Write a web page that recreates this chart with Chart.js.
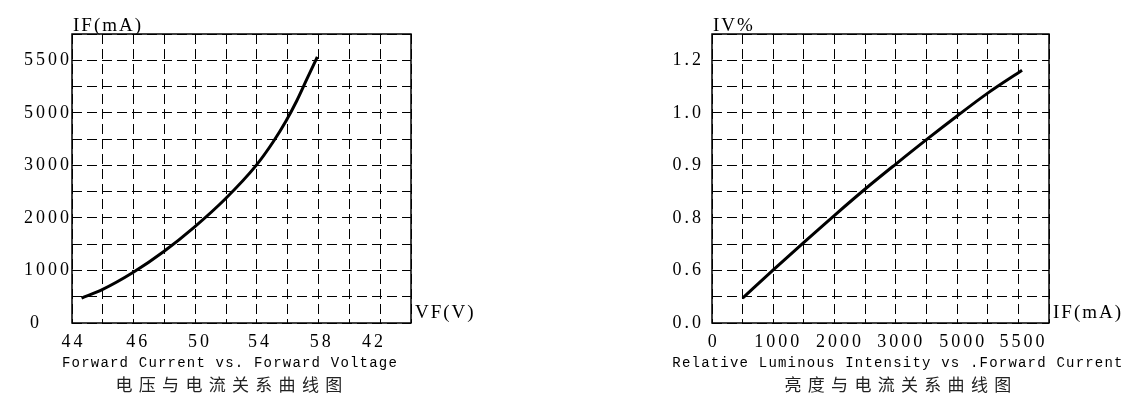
<!DOCTYPE html>
<html>
<head>
<meta charset="utf-8">
<script src="https://cdn.jsdelivr.net/npm/chart.js@4.4.0/dist/chart.umd.min.js"></script>
<style>
    html, body { margin: 0; padding: 0; background: #fff; }
    #wrap { position: relative; width: 1137px; height: 410px; }
    .box { position: absolute; top: 0; height: 410px; }
</style>
</head>
<body>
<div id="wrap">
    <div class="box" style="left:0;width:568px"><canvas id="vfChart"></canvas></div>
    <div class="box" style="left:568px;width:569px"><canvas id="ivChart"></canvas></div>
</div>
<script>
// 左图：电压与电流关系（刻度标注非线性，所以曲线按网格格数读取）
const vfCurveX = [0.31, 0.98, 1.99, 2.99, 3.97, 4.97, 5.97, 6.53, 6.94, 7.29, 7.62, 7.96];
const vfCurveY = [0.95, 1.27, 1.93, 2.73, 3.65, 4.72, 5.99, 6.90, 7.68, 8.45, 9.28, 10.13];
const vfTickLabels = ['44', '46', '50', '54', '58', '42'];
const vfTickAt = [0.05, 2.15, 4.15, 6.1, 8.1, 9.8];
const ifTickLabels = ['0', '1000', '2000', '3000', '5000', '5500'];
const ifTickAt = [0, 2, 4, 6, 8, 10];

// 右图：亮度与电流关系
const ivCurveX = [1.0, 2.0, 3.0, 4.0, 5.0, 6.0, 7.0, 8.0, 9.0, 10.12];
const ivCurveY = [0.95, 2.02, 3.07, 4.10, 5.10, 6.05, 6.98, 7.88, 8.75, 9.62];
const ivTickLabels = ['0.0', '0.6', '0.8', '0.9', '1.0', '1.2'];
const ivTickAt = [0, 2, 4, 6, 8, 10];
const curTickLabels = ['0', '1000', '2000', '3000', '5000', '5500'];
const curTickAt = [0.06, 2.16, 4.18, 6.18, 8.2, 10.17];

const GRID_UNITS = 11;
const serif = '"Liberation Serif", "DejaVu Serif", serif';
const mono = '"Liberation Mono", "DejaVu Sans Mono", monospace';
const cjk = '"Noto Sans CJK SC", sans-serif';
const tickFont = { family: serif, size: 18 };

// 画布的字距（Chart.js 本身不支持 letterSpacing）
const spacingPlugin = {
    id: 'spacing',
    beforeLayout(chart) { chart.ctx.letterSpacing = '3px'; },
    beforeDraw(chart) { chart.ctx.letterSpacing = '3px'; }
};

// 绘图区外框
const framePlugin = {
    id: 'frame',
    beforeDatasetsDraw(chart) {
        const { ctx, chartArea: a } = chart;
        ctx.save();
        ctx.strokeStyle = '#000';
        ctx.lineWidth = 1.5;
        ctx.setLineDash([]);
        ctx.strokeRect(a.left, a.top, a.right - a.left, a.bottom - a.top);
        ctx.restore();
    }
};

// 轴名和图题
const textPlugin = (texts) => ({
    id: 'texts',
    afterDraw(chart) {
        const ctx = chart.ctx;
        texts.forEach(t => {
            ctx.save();
            ctx.font = t.font;
            ctx.letterSpacing = (t.spacing || 0) + 'px';
            ctx.fillStyle = t.color || '#000';
            ctx.textAlign = t.align || 'left';
            ctx.textBaseline = t.baseline || 'alphabetic';
            ctx.fillText(t.text, t.x, t.y);
            ctx.restore();
        });
    }
});

const buildChart = (id, cfg) => {
    const ctx = document.getElementById(id).getContext('2d');
    return new Chart(ctx, {
        type: 'line',
        data: {
            datasets: [{
                data: cfg.xs.map((x, i) => ({ x: x, y: cfg.ys[i] })),
                borderColor: '#000',
                borderWidth: 3,
                pointRadius: 0,
                cubicInterpolationMode: 'monotone',
                xAxisID: 'x',
                yAxisID: 'y'
            }]
        },
        options: {
            responsive: true,
            maintainAspectRatio: false,
            animation: false,
            devicePixelRatio: 1,
            layout: { padding: cfg.padding },
            plugins: {
                legend: { display: false },
                tooltip: { enabled: false }
            },
            scales: {
                x: {
                    type: 'linear',
                    position: 'bottom',
                    min: 0,
                    max: GRID_UNITS,
                    ticks: { stepSize: 1, display: false },
                    grid: { color: '#000', lineWidth: 1, drawTicks: false },
                    border: { display: false, dash: [10, 5] },
                    afterFit: s => { s.height = 0; }
                },
                xl: {
                    type: 'linear',
                    position: 'bottom',
                    min: 0,
                    max: GRID_UNITS,
                    afterBuildTicks: s => { s.ticks = cfg.xTickAt.map(v => ({ value: v })); },
                    ticks: {
                        autoSkip: false,
                        maxRotation: 0,
                        padding: 8,
                        color: '#000',
                        font: tickFont,
                        callback: (v, i) => cfg.xTickLabels[i]
                    },
                    grid: { display: false, drawTicks: false },
                    border: { display: false },
                    afterFit: s => { s.height = 40; }
                },
                y: {
                    type: 'linear',
                    min: 0,
                    max: GRID_UNITS,
                    ticks: {
                        stepSize: 1,
                        padding: cfg.yPad,
                        color: '#000',
                        font: tickFont,
                        callback: v => {
                            const k = cfg.yTickAt.indexOf(v);
                            if (k < 0) return '';
                            return cfg.yTickLabels[k] + (cfg.zeroShift && v === 0 ? '    ' : '');
                        }
                    },
                    grid: { color: '#000', lineWidth: 1, drawTicks: false },
                    border: { display: false, dash: [10, 5] },
                    afterFit: s => { s.width = cfg.yWidth; }
                }
            }
        },
        plugins: [spacingPlugin, framePlugin, textPlugin(cfg.texts)]
    });
};

buildChart('vfChart', {
    xs: vfCurveX, ys: vfCurveY,
    xTickAt: vfTickAt, xTickLabels: vfTickLabels,
    yTickAt: ifTickAt, yTickLabels: ifTickLabels,
    yWidth: 72, yPad: 0, zeroShift: true,
    padding: { left: 0, top: 34, right: 157, bottom: 47 },
    texts: [
        { text: 'IF(mA)', x: 73, y: 31, font: '19px ' + serif, spacing: 2 },
        { text: 'VF(V)', x: 415, y: 318, font: '19px ' + serif, spacing: 2 },
        { text: 'Forward Current vs. Forward Voltage', x: 230, y: 367, font: '14px ' + mono, spacing: 1.2, align: 'center' },
        { text: '电压与电流关系曲线图', x: 232, y: 385, font: '17px ' + cjk, spacing: 6.3, align: 'center', baseline: 'middle', color: '#222' }
    ]
});

buildChart('ivChart', {
    xs: ivCurveX, ys: ivCurveY,
    xTickAt: curTickAt, xTickLabels: curTickLabels,
    yTickAt: ivTickAt, yTickLabels: ivTickLabels,
    yWidth: 144, yPad: 8, zeroShift: false,
    padding: { left: 0, top: 34, right: 88, bottom: 47 },
    texts: [
        { text: 'IV%', x: 145, y: 31, font: '19px ' + serif, spacing: 2 },
        { text: 'IF(mA)', x: 485, y: 318, font: '19px ' + serif, spacing: 2 },
        { text: 'Relative Luminous Intensity vs .Forward Current', x: 330, y: 367, font: '14px ' + mono, spacing: 1.2, align: 'center' },
        { text: '亮度与电流关系曲线图', x: 333, y: 385, font: '17px ' + cjk, spacing: 6.3, align: 'center', baseline: 'middle', color: '#222' }
    ]
});
</script>
</body>
</html>
